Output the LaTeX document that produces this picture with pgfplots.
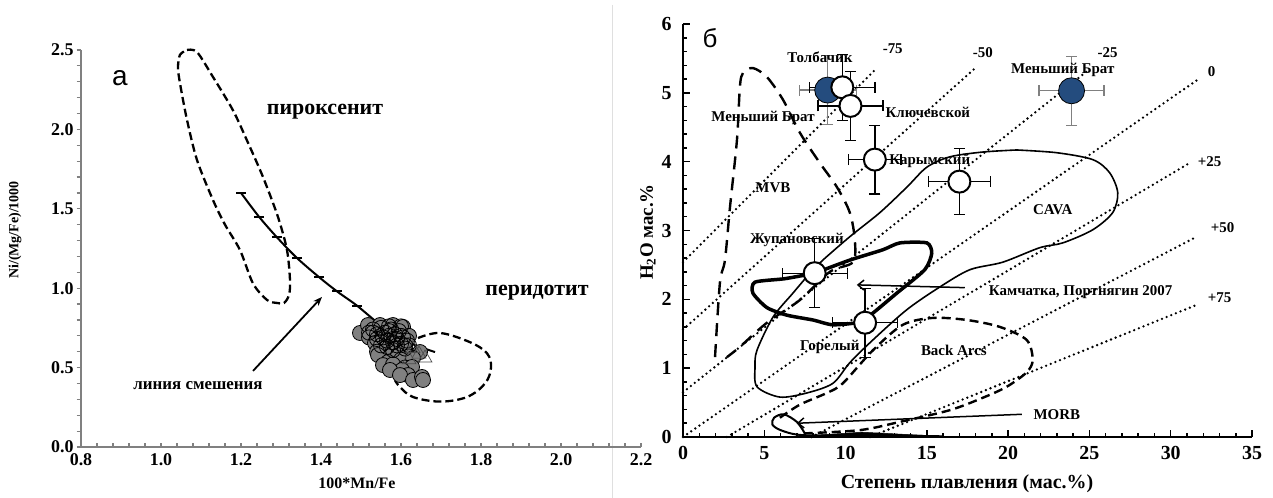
\documentclass[border=0pt]{standalone}
\usepackage{pgfplots}
\pgfplotsset{compat=1.18}
\usepackage{fontspec}
\setmainfont{Liberation Serif}
\newfontfamily\sansf{Liberation Sans}
\usetikzlibrary{arrows.meta}
\definecolor{bluept}{RGB}{36,76,126}
\definecolor{axgray}{RGB}{128,128,128}
\definecolor{ptgray}{RGB}{128,128,128}
\newcommand{\lb}{\bfseries\fontsize{15}{15}\selectfont}
\begin{document}
\begin{tikzpicture}[x=1bp,y=1bp]
\path[use as bounding box] (0,0) rectangle (1273,-498);
\draw[gray!25, line width=1bp] (612,-5) -- (612,-498);

% ---------------- panel a ----------------
\begin{axis}[
  at={(81bp,-447bp)}, anchor=south west,
  scale only axis, width=560bp, height=397bp,
  xmin=0.8, xmax=2.2, ymin=0, ymax=2.5,
  axis x line=bottom, axis y line=left,
  axis line style={axgray, line width=1.5bp, -},
  xtick={0.8,1.0,1.2,1.4,1.6,1.8,2.0,2.2},
  xticklabels={0.8,1.0,1.2,1.4,1.6,1.8,2.0,2.2},
  ytick={0,0.5,1,1.5,2,2.5},
  yticklabels={0.0,0.5,1.0,1.5,2.0,2.5},
  minor x tick num=4, minor y tick num=4,
  tick align=inside, major tick length=4.5bp, minor tick length=4.5bp,
  tick style={axgray, line width=1.2bp},
  y tick style={xshift=-4.5bp},
  ticklabel style={font=\bfseries\fontsize{18}{18}\selectfont},
  xticklabel style={yshift=-3bp}, yticklabel style={xshift=-4bp},
  clip=false,
]
% pyroxenite field
\addplot[black, line width=2.3bp, dash pattern=on 8bp off 4bp, smooth, tension=0.5] coordinates {
(1.065,2.50)(1.09,2.487)(1.13,2.33)(1.18,2.12)(1.215,1.93)(1.255,1.70)(1.2925,1.448)(1.315,1.24)(1.3225,1.05)(1.32,0.957)(1.3075,0.907)(1.29,0.907)(1.265,0.926)(1.23,1.03)(1.1975,1.24)(1.16,1.40)(1.13,1.555)(1.09,1.807)(1.065,2.06)(1.0475,2.29)(1.0425,2.39)(1.0475,2.47)(1.065,2.50)};
% peridotite field
\addplot[black, line width=2.3bp, dash pattern=on 8bp off 4bp, smooth, tension=0.6] coordinates {
(1.6425,0.686)(1.6975,0.718)(1.7725,0.66)(1.815,0.59)(1.825,0.50)(1.81,0.40)(1.765,0.315)(1.6975,0.286)(1.63,0.315)(1.5975,0.378)(1.585,0.42)};
% grey circles
\addplot[only marks, mark=*, mark size=7.5bp, mark options={fill=ptgray, draw=black, line width=0.8bp}] coordinates {
(1.4975,0.718)(1.5175,0.768)(1.5475,0.768)(1.58,0.768)(1.605,0.756)(1.53,0.72)(1.55,0.70)(1.57,0.73)(1.58,0.68)(1.60,0.70)(1.52,0.69)(1.62,0.70)(1.55,0.66)
(1.535,0.655)(1.56,0.62)(1.59,0.62)(1.61,0.64)(1.54,0.60)(1.6475,0.598)(1.62,0.57)(1.57,0.57)(1.5425,0.579)(1.5925,0.579)(1.60,0.55)(1.63,0.56)
(1.5675,0.535)(1.555,0.516)(1.58,0.52)(1.61,0.50)(1.6275,0.504)(1.6025,0.485)(1.5725,0.485)(1.6175,0.453)(1.5975,0.453)(1.63,0.422)(1.6525,0.441)(1.655,0.422)};
% black open circles (dense)
\addplot[only marks, mark=o, mark size=7.5bp, mark options={draw=black, line width=0.8bp}] coordinates {
(1.53,0.74)(1.54,0.71)(1.55,0.75)(1.555,0.69)(1.56,0.72)(1.565,0.67)(1.57,0.70)(1.575,0.74)(1.58,0.66)(1.585,0.71)(1.59,0.68)(1.595,0.73)(1.60,0.65)(1.605,0.69)(1.61,0.62)(1.615,0.67)(1.55,0.64)(1.565,0.63)(1.58,0.61)(1.59,0.64)(1.54,0.68)(1.57,0.76)(1.60,0.76)(1.62,0.64)(1.52,0.72)};
% triangles
\addplot[only marks, mark=triangle, mark size=8bp, mark options={draw=black!70, line width=0.7bp}] coordinates {
(1.63,0.62)(1.645,0.585)(1.66,0.56)(1.62,0.55)};
% mixing line
\addplot[black, line width=2bp, smooth] coordinates {
(1.2,1.60)(1.245,1.45)(1.29,1.32)(1.34,1.19)(1.395,1.07)(1.44,0.98)(1.49,0.89)(1.555,0.756)(1.6225,0.655)(1.685,0.598)};
\addplot[only marks, mark=-, mark size=5bp, mark options={line width=1.8bp, black}] coordinates {
(1.2,1.60)(1.245,1.45)(1.29,1.32)(1.34,1.19)(1.395,1.07)(1.44,0.98)(1.49,0.89)};
% annotations
\node[font=\sansf\fontsize{28}{28}\selectfont] at (axis cs:0.8975,2.32) {а};
\node[font=\bfseries\fontsize{22}{22}\selectfont] at (axis cs:1.41,2.11) {пироксенит};
\node[font=\bfseries\fontsize{22}{22}\selectfont] at (axis cs:1.94,0.97) {перидотит};
\node[font=\bfseries\fontsize{17}{17}\selectfont] at (axis cs:1.0925,0.384) {линия смешения};
\draw[black, line width=1.8bp, -{Stealth[length=9bp,width=7bp]}] (axis cs:1.23,0.479) -- (axis cs:1.4025,0.945);
\end{axis}
\node[font=\bfseries\fontsize{16}{16}\selectfont] at (357,-483) {100*Mn/Fe};
\node[font=\bfseries\fontsize{14}{14}\selectfont, rotate=90] at (15,-230) {Ni/(Mg/Fe)/1000};

% ---------------- panel b ----------------
\begin{axis}[
  at={(683bp,-437bp)}, anchor=south west,
  scale only axis, width=569bp, height=413bp,
  xmin=0, xmax=35, ymin=0, ymax=6,
  axis x line=bottom, axis y line=left,
  axis line style={black, line width=2bp, -},
  xtick={0,5,10,15,20,25,30,35},
  xticklabels={0,5,10,15,20,25,30,35},
  ytick={0,1,2,3,4,5,6},
  yticklabels={0,1,2,3,4,5,6},
  minor x tick num=4, minor y tick num=4,
  tick align=inside, major tick length=7bp, minor tick length=4bp,
  tick style={black, line width=1.5bp},
  ticklabel style={font=\bfseries\fontsize{20}{20}\selectfont},
  xticklabel style={yshift=-6bp}, yticklabel style={xshift=-8bp},
  clip=false,
]
% isolines (dotted)
\pgfplotsset{iso/.style={black, line width=2.6bp, line cap=round, dash pattern=on 0bp off 5bp}}
\addplot[iso] coordinates {(0,2.54)(11.92,5.36)};
\addplot[iso] coordinates {(0,1.56)(18.07,5.38)};
\addplot[iso] coordinates {(0,0.65)(24.83,5.31)};
\addplot[iso] coordinates {(0,0)(31.65,5.19)};
\addplot[iso] coordinates {(2.7,0)(31.16,3.98)};
\addplot[iso] coordinates {(7.9,0)(31.6,2.91)};
\addplot[iso] coordinates {(11.5,0)(31.6,1.92)};
% MVB field
\addplot[black, line width=2.4bp, dash pattern=on 13bp off 8bp, smooth, tension=0.5] coordinates {
(1.97,1.16)(2.27,2.24)(2.58,2.57)(2.89,3.34)(3.32,4.32)(3.50,5.09)(3.69,5.29)(4.30,5.36)(5.16,5.23)(6.15,4.90)(7.19,4.42)(8.42,3.98)(9.47,3.63)(10.26,3.26)(10.57,2.86)(10.45,2.54)(9.03,2.40)(7.19,1.99)(5.16,1.66)(3.50,1.31)(2.70,1.16)};
% CAVA field
\addplot[black, line width=1.6bp, smooth, tension=0.5] coordinates {
(20.53,4.17)(18.44,4.14)(16.41,4.07)(15.0,3.92)(13.77,3.63)(12.11,3.26)(10.26,2.91)(8.6,2.57)(7.99,2.43)(6.76,2.09)(5.53,1.74)(4.55,1.26)(4.43,1.02)(4.55,0.73)(5.96,0.58)(7.62,0.64)(9.22,0.78)(10.26,1.08)(11.68,1.41)(13.77,1.85)(15.8,2.18)(17.64,2.43)(19.67,2.54)(21.94,2.75)(23.36,2.82)(25.2,3.01)(26.43,3.26)(26.74,3.55)(26.24,3.84)(25.2,4.03)(22.99,4.13)(20.53,4.17)};
% Kamchatka field
\addplot[black, line width=3.5bp, smooth, tension=0.4] coordinates {
(8.11,2.38)(10.26,2.57)(12.29,2.72)(13.34,2.82)(15.0,2.82)(15.3,2.67)(14.87,2.43)(13.15,2.09)(11.68,1.80)(10.88,1.67)(9.22,1.63)(7.99,1.70)(6.39,1.77)(5.16,1.88)(4.30,2.09)(4.43,2.25)(6.27,2.30)(8.11,2.38)};
% Back Arcs field
\addplot[black, line width=2.4bp, dash pattern=on 9bp off 5bp, smooth, tension=0.5] coordinates {
(5.96,0.28)(7.19,0.47)(8.85,0.64)(9.83,0.78)(11.68,1.26)(13.52,1.63)(15.37,1.73)(17.46,1.70)(19.48,1.60)(21.14,1.41)(21.51,1.12)(21.14,0.94)(19.91,0.73)(18.44,0.57)(16.41,0.39)(13.34,0.22)(10.88,0.10)(7.19,0.05)};
% MORB field
\addplot[black, line width=2bp, smooth, tension=0.5] coordinates {
(7.5,0.05)(7.0,0.22)(6.2,0.33)(5.6,0.28)(5.5,0.18)(6.0,0.10)(7.2,0.03)(10,0.02)(13,0.02)(16,0.01)};
\addplot[black, fill=black, line width=0.5bp] coordinates {(7,0.01)(16,0.01)(11,0.07)(7,0.01)};
% arrows
\draw[black, line width=1.5bp, -{Straight Barb[length=6bp,width=10bp,line width=1.5bp]}] (axis cs:17.33,2.17) -- (axis cs:10.69,2.21);
\draw[black, line width=1.5bp, -{Straight Barb[length=6bp,width=10bp,line width=1.5bp]}] (axis cs:20.84,0.33) -- (axis cs:7.0,0.2);
% data points with error bars
\addplot[only marks, mark=*, mark size=13bp, mark options={fill=bluept, draw=black, line width=0.8bp},
  error bars/.cd, x dir=both, x explicit, y dir=both, y explicit,
  error bar style={axgray, line width=1.3bp}, error mark options={axgray, line width=1.3bp, mark size=5.5bp, rotate=90}]
  coordinates {(8.9,5.04) +- (1.75,0.5) (23.9,5.03) +- (2.0,0.5)};
\addplot[only marks, mark=*, mark size=11bp, mark options={fill=white, draw=black, line width=2bp},
  error bars/.cd, x dir=both, x explicit, y dir=both, y explicit,
  error bar style={black, line width=1.3bp}, error mark options={black, line width=1.3bp, mark size=5.5bp, rotate=90}]
  coordinates {(9.8,5.08) +- (2.0,0.48) (10.3,4.81) +- (2.0,0.5) (11.8,4.03) +- (1.6,0.5) (17.0,3.71) +- (1.9,0.48) (8.1,2.38) +- (2.0,0.5) (11.2,1.66) +- (2.0,0.5)};
% labels
\node[font=\sansf\fontsize{26}{26}\selectfont] at (axis cs:1.66,5.8) {б};
\node[font=\lb] at (axis cs:8.42,5.52) {Толбачик};
\node[font=\lb] at (axis cs:4.92,4.64) {Меньший Брат};
\node[font=\lb] at (axis cs:15.06,4.71) {Ключевской};
\node[font=\lb] at (axis cs:15.18,4.01) {Карымский};
\node[font=\lb] at (axis cs:5.53,3.62) {MVB};
\node[font=\lb] at (axis cs:7.0,2.86) {Жупановский};
\node[font=\lb] at (axis cs:22.74,3.31) {CAVA};
\node[font=\lb] at (axis cs:24.46,2.11) {Камчатка, Портнягин 2007};
\node[font=\lb] at (axis cs:9.03,1.31) {Горелый};
\node[font=\lb] at (axis cs:16.66,1.26) {Back Arcs};
\node[font=\lb] at (axis cs:22.99,0.32) {MORB};
\node[font=\lb] at (axis cs:23.36,5.33) {Меньший Брат};
\node[font=\lb] at (axis cs:12.9,5.64) {-75};
\node[font=\lb] at (axis cs:18.44,5.58) {-50};
\node[font=\lb] at (axis cs:26.12,5.58) {-25};
\node[font=\lb] at (axis cs:32.51,5.31) {0};
\node[font=\lb] at (axis cs:32.39,4.0) {+25};
\node[font=\lb] at (axis cs:33.19,3.04) {+50};
\node[font=\lb] at (axis cs:33.0,2.02) {+75};
\end{axis}
\node[font=\bfseries\fontsize{20}{20}\selectfont] at (967,-484) {Степень плавления (мас.\%)};
\node[font=\bfseries\fontsize{19}{19}\selectfont, rotate=90] at (648,-232) {H\textsubscript{2}O мас.\%};
\end{tikzpicture}
\end{document}
